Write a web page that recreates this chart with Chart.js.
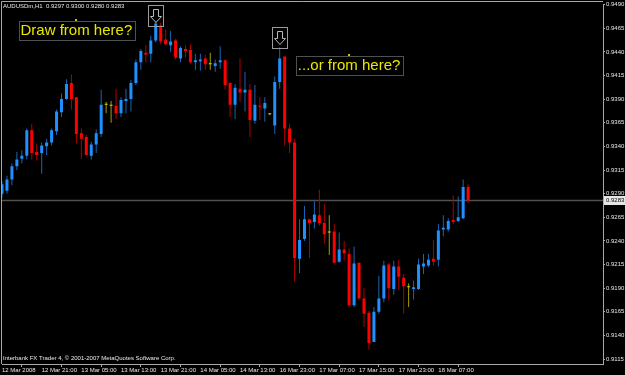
<!DOCTYPE html>
<html><head><meta charset="utf-8">
<script src="https://cdn.jsdelivr.net/npm/chart.js@4/dist/chart.umd.min.js"></script>
<style>html,body{margin:0;padding:0;background:#000;overflow:hidden}</style>
</head><body>
<canvas id="c" width="625" height="375"></canvas>
<script>
// ---- data (AUDUSDm, H1) ----
const opens = [
0.9290,0.9293,0.9305,0.9319,0.9327,0.9330,0.9357,0.9334,0.9333,0.9340,
0.9344,0.9356,0.9376,0.9390,0.9407,0.9392,0.9354,0.9350,0.9330,0.9342,
0.9353,0.9384,0.9383,0.9383,0.9375,0.9388,0.9390,0.9407,0.9429,0.9439,
0.9438,0.9452,0.9468,0.9453,0.9447,0.9452,0.9433,0.9443,0.9442,0.9429,
0.9430,0.9433,0.9427,0.9425,0.9429,0.9431,0.9407,0.9384,0.9401,0.9397,
0.9400,0.9367,0.9383,0.9380,0.9374,0.9362,0.9408,0.9435,0.9359,0.9344,
0.9221,0.9242,0.9263,0.9260,0.9267,0.9259,0.9249,0.9250,0.9218,0.9231,
0.9226,0.9172,0.9217,0.9179,0.9164,0.9133,0.9165,0.9179,0.9215,0.9189,
0.9213,0.9201,0.9191,0.9189,0.9189,0.9213,0.9214,0.9221,0.9220,0.9252,
0.9252,0.9262,0.9261,0.9264,0.9297];
const highs = [
0.9303,0.9309,0.9322,0.9334,0.9336,0.9359,0.9364,0.9343,0.9344,0.9348,
0.9359,0.9379,0.9396,0.9411,0.9416,0.9392,0.9359,0.9352,0.9345,0.9358,
0.9400,0.9387,0.9388,0.9401,0.9392,0.9401,0.9410,0.9432,0.9443,0.9447,
0.9457,0.9472,0.9471,0.9464,0.9462,0.9454,0.9446,0.9447,0.9448,0.9438,
0.9438,0.9437,0.9439,0.9432,0.9446,0.9432,0.9408,0.9406,0.9433,0.9419,
0.9406,0.9405,0.9392,0.9392,0.9375,0.9414,0.9445,0.9435,0.9364,0.9348,
0.9263,0.9277,0.9263,0.9282,0.9294,0.9279,0.9267,0.9258,0.9249,0.9240,
0.9232,0.9234,0.9217,0.9190,0.9166,0.9170,0.9203,0.9219,0.9217,0.9219,
0.9220,0.9205,0.9195,0.9198,0.9221,0.9226,0.9226,0.9241,0.9258,0.9267,
0.9264,0.9288,0.9287,0.9305,0.9300];
const lows = [
0.9286,0.9290,0.9299,0.9315,0.9322,0.9326,0.9326,0.9325,0.9311,0.9331,
0.9341,0.9352,0.9371,0.9389,0.9379,0.9343,0.9327,0.9330,0.9326,0.9333,
0.9350,0.9375,0.9365,0.9369,0.9371,0.9375,0.9377,0.9405,0.9421,0.9429,
0.9429,0.9450,0.9448,0.9447,0.9440,0.9432,0.9429,0.9434,0.9427,0.9421,
0.9420,0.9421,0.9421,0.9419,0.9422,0.9400,0.9371,0.9369,0.9387,0.9377,
0.9350,0.9364,0.9368,0.9366,0.9373,0.9353,0.9401,0.9341,0.9333,0.9197,
0.9206,0.9240,0.9222,0.9253,0.9256,0.9237,0.9225,0.9216,0.9217,0.9219,
0.9170,0.9170,0.9178,0.9149,0.9125,0.9133,0.9163,0.9175,0.9177,0.9183,
0.9188,0.9163,0.9170,0.9178,0.9188,0.9205,0.9212,0.9214,0.9213,0.9245,
0.9250,0.9258,0.9260,0.9263,0.9280];
const closes = [
0.9300,0.9305,0.9319,0.9326,0.9330,0.9357,0.9333,0.9331,0.9341,0.9344,
0.9357,0.9377,0.9390,0.9406,0.9390,0.9353,0.9348,0.9331,0.9342,0.9354,
0.9384,0.9384,0.9383,0.9375,0.9389,0.9390,0.9407,0.9429,0.9441,0.9437,
0.9452,0.9470,0.9451,0.9448,0.9451,0.9434,0.9444,0.9441,0.9429,0.9431,
0.9432,0.9427,0.9427,0.9428,0.9431,0.9405,0.9384,0.9402,0.9397,0.9400,
0.9368,0.9384,0.9382,0.9386,0.9374,0.9408,0.9433,0.9359,0.9344,0.9222,
0.9241,0.9263,0.9259,0.9268,0.9259,0.9247,0.9249,0.9217,0.9231,0.9227,
0.9172,0.9216,0.9179,0.9163,0.9132,0.9165,0.9179,0.9214,0.9190,0.9213,
0.9202,0.9192,0.9191,0.9191,0.9215,0.9216,0.9220,0.9218,0.9251,0.9254,
0.9261,0.9260,0.9265,0.9297,0.9283];

const tickIndex = [0,8,16,24,32,40,48,56,64,72,80,88];
const tickLabels = ["12 Mar 2008","12 Mar 21:00","13 Mar 05:00","13 Mar 13:00","13 Mar 21:00","14 Mar 05:00",
                    "14 Mar 13:00","16 Mar 23:00","17 Mar 07:00","17 Mar 15:00","17 Mar 23:00","18 Mar 07:00"];
const priceTicks = [0.9115,0.9140,0.9165,0.9190,0.9215,0.9240,0.9265,0.9290,0.9315,0.9340,0.9365,0.9390,0.9415,0.9440,0.9465,0.9490];
const headerText = "AUDUSDm,H1  0.9297 0.9300 0.9280 0.9283";
const footerText = "Interbank FX Trader 4, \u00A9 2001-2007 MetaQuotes Software Corp.";
const textNotes = [
  {idx: 15, price: 0.9474, text: "Draw from here?"},
  {idx: 70, price: 0.9437, text: "...or from here?"}
];
const arrowNotes = [
  {idx: 31, price: 0.9490},
  {idx: 56, price: 0.9466}
];

// ---- styling ----
const UP = '#1e90ff', DOWN = '#ff0000', DOJI = '#d8d800';
const UP_W = '#1a64b4', DOWN_W = '#b00000', DOJI_W = '#a0a000';
const kind = (i) => closes[i] > opens[i] ? 1 : (closes[i] < opens[i] ? -1 : 0);
const bodyData = opens.map((o, i) => ({x: i, y: [o, closes[i]]}));
const wickData = lows.map((l, i) => ({x: i, y: [l, highs[i]]}));
const bodyColors = opens.map((o, i) => kind(i) > 0 ? UP : kind(i) < 0 ? DOWN : DOJI);
const wickColors = opens.map((o, i) => kind(i) > 0 ? UP_W : kind(i) < 0 ? DOWN_W : DOJI_W);

const SMALL = {family: "'Liberation Sans', Arial, sans-serif", size: 6};
const AXIS = '#a8a8a8';
const TXT = '#e8e8e8';

const decor = {
  id: 'decor',
  beforeDraw(chart) {
    const c = chart.ctx;
    c.save(); c.fillStyle = '#000'; c.fillRect(0, 0, chart.width, chart.height); c.restore();
  },
  beforeDatasetsDraw(chart) {
    const c = chart.ctx, a = chart.chartArea, y = chart.scales.y;
    const py = Math.round(y.getPixelForValue(closes[closes.length - 1])) + 0.5;
    c.save();
    c.strokeStyle = '#505050'; c.lineWidth = 1.5;
    c.beginPath(); c.moveTo(a.left, py); c.lineTo(a.right, py); c.stroke();
    c.restore();
  },
  afterDraw(chart) {
    const c = chart.ctx, a = chart.chartArea, xs = chart.scales.x, ys = chart.scales.y;
    c.save();
    // frame left/top
    c.strokeStyle = AXIS; c.lineWidth = 1;
    c.beginPath();
    c.moveTo(1.5, a.bottom); c.lineTo(1.5, 1.5); c.lineTo(a.right, 1.5);
    c.stroke();
    // header & footer
    c.fillStyle = TXT;
    c.font = "6px 'Liberation Sans', Arial, sans-serif";
    c.textBaseline = 'middle'; c.textAlign = 'left';
    c.fillText(headerText, 3, 6.5);
    c.fillText(footerText, 3, 358);
    // text notes
    c.font = "15px 'Liberation Sans', Arial, sans-serif";
    textNotes.forEach(n => {
      const px = xs.getPixelForValue(n.idx), py = ys.getPixelForValue(n.price);
      const w = c.measureText(n.text).width;
      c.strokeStyle = '#505050'; c.lineWidth = 1;
      c.strokeRect(Math.round(px - w / 2 - 2) + 0.5, Math.round(py + 1) + 0.5, Math.round(w + 4), 19);
      c.fillStyle = '#e8e800';
      c.textAlign = 'center'; c.textBaseline = 'top';
      c.fillText(n.text, px, py + 4);
      c.fillStyle = '#c8c800';
      c.fillRect(Math.round(px) - 1, Math.round(py) - 1, 2, 2);
    });
    // arrow notes
    arrowNotes.forEach(n => {
      const px = xs.getPixelForValue(n.idx), py = ys.getPixelForValue(n.price);
      const L = Math.round(px - 7.5) + 0.5, T = Math.round(py) + 0.5;
      c.strokeStyle = '#9a9a9a'; c.lineWidth = 1;
      c.strokeRect(L, T, 15, 21);
      c.strokeStyle = '#b8b8b8';
      c.beginPath();
      c.moveTo(L + 5, T + 4); c.lineTo(L + 10, T + 4); c.lineTo(L + 10, T + 11);
      c.lineTo(L + 13, T + 11); c.lineTo(L + 7.5, T + 17); c.lineTo(L + 2, T + 11);
      c.lineTo(L + 5, T + 11); c.closePath();
      c.stroke();
    });
    // current price label on axis
    const last = closes[closes.length - 1];
    const py = ys.getPixelForValue(last);
    c.fillStyle = '#e6e6e6';
    c.fillRect(a.right + 1, Math.round(py) - 4, 21, 9);
    c.fillStyle = '#000';
    c.font = "6px 'Liberation Sans', Arial, sans-serif";
    c.textAlign = 'left'; c.textBaseline = 'middle';
    c.fillText(last.toFixed(4), a.right + 3, Math.round(py) + 0.5);
    c.restore();
  }
};

new Chart(document.getElementById('c'), {
  type: 'bar',
  data: {
    datasets: [
      {label: 'body', data: bodyData, backgroundColor: bodyColors, barThickness: 3, minBarLength: 1,
       grouped: false, borderWidth: 0, inflateAmount: 0},
      {label: 'wick', data: wickData, backgroundColor: wickColors, barThickness: 1,
       grouped: false, borderWidth: 0, inflateAmount: 0}
    ]
  },
  options: {
    responsive: false, animation: false, devicePixelRatio: 1,
    layout: {padding: {left: 2, top: 2, right: 0, bottom: 0}},
    plugins: {legend: {display: false}, tooltip: {enabled: false}},
    scales: {
      x: {
        type: 'linear', min: 0, max: 121.2, offset: false, position: 'bottom',
        grid: {display: true, drawOnChartArea: false, drawTicks: true, tickLength: 3, color: AXIS},
        border: {display: true, color: AXIS},
        ticks: {align: 'start', font: SMALL, color: TXT, padding: 0, maxRotation: 0, autoSkip: false,
                callback: (v) => { const k = tickIndex.indexOf(v); return k >= 0 ? tickLabels[k] : ''; }},
        afterBuildTicks: (s) => { s.ticks = tickIndex.map(v => ({value: v})); },
        afterFit: (s) => { s.height = 11; }
      },
      y: {
        type: 'linear', position: 'right', min: 0.9490 - 362 / 9520, max: 0.9490,
        grid: {display: true, drawOnChartArea: false, drawTicks: true, tickLength: 2, color: AXIS},
        border: {display: true, color: AXIS},
        ticks: {font: SMALL, color: TXT, padding: 1, autoSkip: false,
                callback: (v) => Number(v).toFixed(4)},
        afterBuildTicks: (s) => { s.ticks = priceTicks.map(v => ({value: v})); },
        afterFit: (s) => { s.width = 22; }
      }
    }
  },
  plugins: [decor]
});
</script>
</body></html>
